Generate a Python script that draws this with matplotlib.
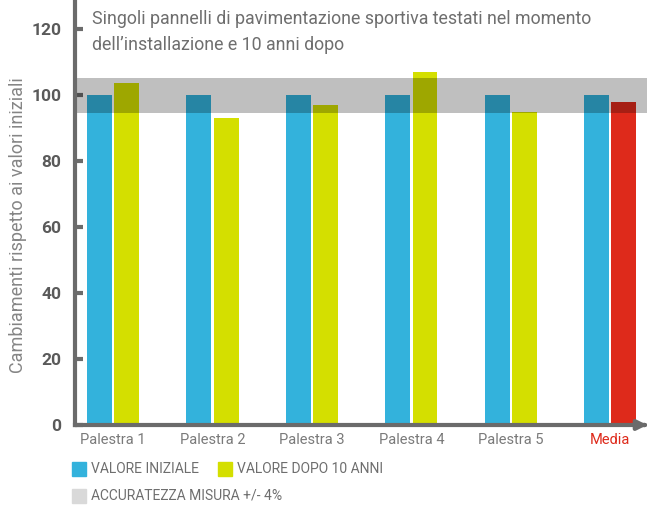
import matplotlib
matplotlib.use("Agg")
import matplotlib.pyplot as plt
import numpy as np
from matplotlib.patches import Rectangle

categories = ["Palestra 1", "Palestra 2", "Palestra 3", "Palestra 4", "Palestra 5", "Media"]
valore_iniziale = [100, 100, 100, 100, 100, 100]
valore_dopo = [103.6, 92.9, 96.9, 106.9, 94.7, 97.8]
band_low, band_high = 94.55, 105.05
yticks = [0, 20, 40, 60, 80, 100, 120]

blue = "#33b2dc"
green = "#d4df00"
red = "#de2a1b"
axis_gray = "#6b6b6b"

plt.rcParams["font.family"] = ["Roboto", "DejaVu Sans"]

fig = plt.figure(figsize=(6.51, 5.05), dpi=100)
ax = fig.add_axes([75 / 651, 80 / 505, (650 - 75) / 651, 425 / 505])

x = np.arange(len(categories))
w = 0.25
ax.bar(x - 0.138, valore_iniziale, width=w, color=blue, zorder=2)
after_colors = [green] * 5 + [red]
ax.bar(x + 0.137, valore_dopo, width=w, color=after_colors, zorder=2)

# fascia di accuratezza, semi-trasparente sopra le barre
ax.axhspan(band_low, band_high, xmax=0.995, color="black", alpha=0.25, lw=0, zorder=3)

ax.set_xlim(-0.384, 5.40)
ax.set_ylim(0, 128.7)

for s in ["top", "right"]:
    ax.spines[s].set_visible(False)
for s in ["left", "bottom"]:
    ax.spines[s].set_color(axis_gray)
    ax.spines[s].set_linewidth(3)
    ax.spines[s].set_zorder(4)
ax.spines["bottom"].set_bounds(-0.384, 5.33)

# freccia in fondo all'asse x
ax.annotate("", xy=(1.0, 0), xycoords="axes fraction", xytext=(0.985, 0),
            arrowprops=dict(arrowstyle="-|>", color=axis_gray, lw=3, mutation_scale=14),
            annotation_clip=False, zorder=5)

ax.set_yticks(yticks)
ax.set_yticklabels([str(t) for t in yticks], fontsize=12.5, fontweight="bold", color="#5a5a5a")
ax.tick_params(axis="y", direction="in", length=6, width=3, color=axis_gray, pad=10)

ax.set_xticks(x)
ax.set_xticklabels(categories, fontsize=10.5, color="#7a7a7a")
ax.get_xticklabels()[-1].set_color(red)
ax.tick_params(axis="x", length=0, pad=6)

fig.text(18 / 651, 1 - 225 / 505, "Cambiamenti rispetto ai valori iniziali", rotation=90,
         fontsize=13, color="#858585", va="center", ha="center")

ax.text(92 / 651, 1 - 10 / 505,
        "Singoli pannelli di pavimentazione sportiva testati nel momento\ndell\u2019installazione e 10 anni dopo",
        transform=fig.transFigure, fontsize=12.8, color="#6e6e6e", va="top", ha="left",
        linespacing=1.6)

# legenda
legend_items = [
    (72, 462, blue, "VALORE INIZIALE"),
    (218, 462, green, "VALORE DOPO 10 ANNI"),
    (72, 489, "#d9d9d9", "ACCURATEZZA MISURA +/- 4%"),
]
for px, py, col, lab in legend_items:
    fig.patches.append(Rectangle((px / 651, 1 - (py + 14) / 505), 14 / 651, 14 / 505,
                                 transform=fig.transFigure, color=col))
    fig.text((px + 19) / 651, 1 - (py + 7) / 505, lab, fontsize=10, color="#6e6e6e",
             va="center", ha="left")

fig.savefig("out.png", dpi=100)
